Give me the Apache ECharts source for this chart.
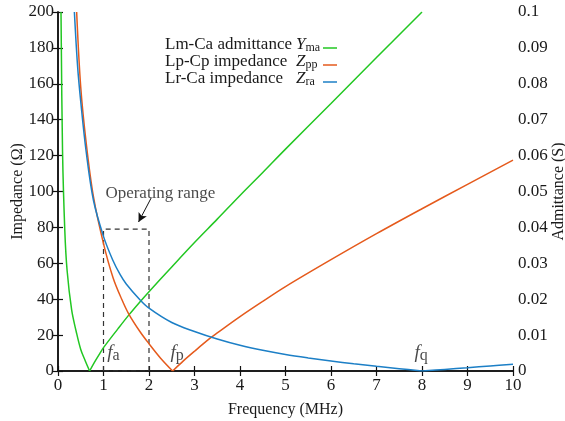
<!DOCTYPE html>
<html>
<head>
<meta charset="utf-8">
<script src="https://cdn.jsdelivr.net/npm/echarts@6/dist/echarts.min.js"></script>
<style>
  html, body { margin: 0; padding: 0; background: #fff; }
  #chart { width: 565px; height: 421px; }
</style>
</head>
<body>
<div id="chart"></div>
<script>
// values
var freqMa = [0.066, 0.1, 0.15, 0.2, 0.3, 0.4, 0.5, 0.6, 0.695, 0.8, 0.9, 1.0, 1.32, 1.55, 1.79, 2, 2.5, 3, 3.5, 4, 4.5, 5, 6, 7, 8];
var admitMa = [0.1, 0.061, 0.039, 0.028, 0.017, 0.011, 0.006, 0.0028, 0, 0.0024, 0.0045, 0.0065, 0.0118, 0.0155, 0.0191, 0.0221, 0.029, 0.0358, 0.0423, 0.0489, 0.0553, 0.0618, 0.0745, 0.0873, 0.1];

var freqPp = [0.41, 0.5, 0.62, 0.78, 1.0, 1.21, 1.4, 1.55, 1.8, 2.0, 2.25, 2.52, 2.75, 3, 3.33, 3.5, 4, 4.5, 5, 6, 7, 8, 9, 10];
var zPp = [200, 158, 127, 97, 71, 52, 40, 32, 22, 15.2, 7.3, 0, 5.5, 11, 18, 21.2, 30.3, 38.8, 47, 62, 76.5, 90.4, 104, 117.5];

var freqRa = [0.36, 0.43, 0.5, 0.62, 0.78, 1.0, 1.2, 1.37, 1.5, 1.79, 2, 2.5, 3, 3.5, 4, 4.5, 5, 5.5, 6, 6.5, 7, 7.5, 8, 8.5, 9, 9.5, 10];
var zRa = [200, 170, 150, 122, 95, 75, 62, 53.5, 48.5, 40, 35, 27, 22, 17.8, 14.3, 11.5, 9.2, 7.3, 5.6, 4, 2.6, 1.3, 0, 0.9, 1.8, 2.8, 3.7];

var opRange = [1, 2];
var opTop = 79;
var arrowFrom = [2.05, 96.5];
var arrowTo = [1.77, 83];

var resLabels = ['a', 'p', 'q'];
var resFreq = [1.22, 2.62, 7.98];

var serif = '"Liberation Serif", "DejaVu Serif", serif';
var colMa = '#22c722', colPp = '#e55a1c', colRa = '#1c7fc6';

// split a curve at its zero point so the V stays sharp
function branches(xs, ys) {
  var k = ys.indexOf(0);
  var a = [], b = [];
  for (var i = 0; i < xs.length; i++) {
    if (i <= k) a.push([xs[i], ys[i]]);
    if (i >= k) b.push([xs[i], ys[i]]);
  }
  return [a, b];
}

function curve(name, pts, color, yIdx) {
  return {
    name: name, type: 'line', data: pts, yAxisIndex: yIdx,
    smooth: 0.35, showSymbol: false, silent: true,
    lineStyle: { color: color, width: 1.5 }, z: 3
  };
}

var series = [];
var bm = branches(freqMa, admitMa);
series.push(curve('ma1', bm[0], colMa, 1), curve('ma2', bm[1], colMa, 1));
var bp = branches(freqPp, zPp);
series.push(curve('pp1', bp[0], colPp, 0), curve('pp2', bp[1], colPp, 0));
var br = branches(freqRa, zRa);
series.push(curve('ra1', br[0], colRa, 0), curve('ra2', br[1], colRa, 0));

// operating range box + arrow
series.push({
  name: 'box', type: 'line', yAxisIndex: 0, showSymbol: false, silent: true,
  data: [[opRange[0], 0], [opRange[0], opTop], [opRange[1], opTop], [opRange[1], 0], [opRange[0], 0]],
  lineStyle: { color: '#333', width: 1.2, type: [5, 4] }, z: 2,
  markLine: {
    silent: true, symbol: ['none', 'arrow'], symbolSize: [7, 9],
    lineStyle: { color: '#111', width: 1, type: 'solid' }, label: { show: false },
    data: [[{ coord: arrowFrom }, { coord: arrowTo }]]
  }
});

// text annotations anchored in data space
var ann = [{ value: [2.25, 99], label: { formatter: 'Operating range' } }];
for (var i = 0; i < resLabels.length; i++) {
  ann.push({ value: [resFreq[i], 10], label: { formatter: '{i|f}{s|' + resLabels[i] + '}' } });
}
series.push({
  name: 'ann', type: 'scatter', yAxisIndex: 0, symbolSize: 0, silent: true, data: ann,
  label: {
    show: true, position: 'inside', color: '#1a1a1a', fontFamily: serif, fontSize: 17,
    rich: {
      i: { fontFamily: serif, fontStyle: 'italic', fontSize: 19, color: '#1a1a1a' },
      s: { fontFamily: serif, fontSize: 16, color: '#1a1a1a', padding: [6, 0, 0, 0] }
    }
  }
});

var axisLine = { show: true, lineStyle: { color: '#111', width: 1.5 } };
var axisTick = { show: true, inside: true, length: 5, lineStyle: { color: '#111', width: 1.2 } };
var axisLabel = { fontFamily: serif, fontSize: 17, color: '#1a1a1a' };
var nameStyle = { fontFamily: serif, fontSize: 16, color: '#1a1a1a' };

var legendRows = [
  { text: 'Lm-Ca admittance', sym: 'Y', sub: 'ma', color: colMa, y: 45 },
  { text: 'Lp-Cp impedance', sym: 'Z', sub: 'pp', color: colPp, y: 62 },
  { text: 'Lr-Ca impedance', sym: 'Z', sub: 'ra', color: colRa, y: 79 }
];
var graphic = [];
legendRows.forEach(function (r) {
  graphic.push({
    type: 'text', left: 165, top: r.y - 9, silent: true,
    style: { text: r.text, font: '17px ' + serif, fill: '#1a1a1a' }
  });
  graphic.push({
    type: 'text', left: 296, top: r.y - 9, silent: true,
    style: {
      text: '{i|' + r.sym + '}{s|' + r.sub + '}',
      rich: {
        i: { fontFamily: serif, fontStyle: 'italic', fontSize: 17, fill: '#1a1a1a' },
        s: { fontFamily: serif, fontSize: 12, fill: '#1a1a1a', padding: [6, 0, 0, 0] }
      }
    }
  });
  graphic.push({
    type: 'line', silent: true,
    shape: { x1: 323, y1: r.y + 3, x2: 337, y2: r.y + 3 },
    style: { stroke: r.color, lineWidth: 1.5 }
  });
});

var chart = echarts.init(document.getElementById('chart'));
chart.setOption({
  animation: false,
  backgroundColor: '#fff',
  grid: { left: 58, right: 52, top: 12, bottom: 50, containLabel: false, outerBoundsMode: 'none' },
  xAxis: [{
    type: 'value', min: 0, max: 10, interval: 1, position: 'bottom',
    axisLine: axisLine, axisTick: axisTick, splitLine: { show: false },
    axisLabel: Object.assign({ margin: 6 }, axisLabel),
    name: 'Frequency (MHz)', nameLocation: 'middle', nameGap: 31, nameTextStyle: nameStyle
  }, {
    type: 'value', min: 0, max: 10, interval: 1, position: 'top',
    axisLine: axisLine, axisTick: axisTick, splitLine: { show: false }, axisLabel: { show: false }
  }],
  yAxis: [{
    type: 'value', min: 0, max: 200, interval: 20, position: 'left',
    axisLine: axisLine, axisTick: axisTick, splitLine: { show: false },
    axisLabel: Object.assign({ margin: 4 }, axisLabel),
    name: 'Impedance (Ω)', nameLocation: 'middle', nameRotate: 90, nameGap: 32,
    nameMoveOverlap: false, nameTextStyle: nameStyle
  }, {
    type: 'value', min: 0, max: 0.1, interval: 0.01, position: 'right',
    axisLine: axisLine, axisTick: axisTick, splitLine: { show: false },
    axisLabel: Object.assign({ margin: 5 }, axisLabel),
    name: 'Admittance (S)', nameLocation: 'middle', nameRotate: 90, nameGap: 38,
    nameMoveOverlap: false, nameTextStyle: nameStyle
  }],
  graphic: graphic,
  series: series
});
</script>
</body>
</html>
